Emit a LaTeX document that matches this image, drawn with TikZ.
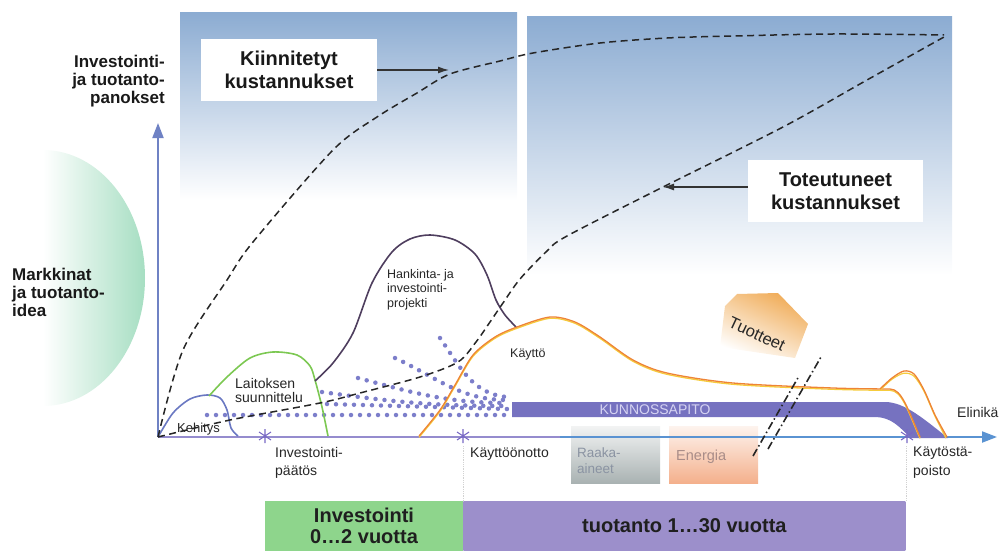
\documentclass[tikz,border=0pt]{standalone}
\usepackage{fontspec}
\setmainfont{Liberation Sans}
\usetikzlibrary{arrows.meta, positioning, calc}
\definecolor{panelblue}{HTML}{8CACD2}
\definecolor{panelmid}{HTML}{B8D4EA}
\definecolor{ideagreen}{HTML}{A6DEC2}
\definecolor{axisblue}{HTML}{6F82C4}
\definecolor{axisright}{HTML}{5A93D2}
\definecolor{axispurple}{HTML}{958CCE}
\definecolor{markviolet}{HTML}{7868C4}
\definecolor{kehblue}{HTML}{6A78C2}
\definecolor{laitgreen}{HTML}{7CC852}
\definecolor{hankpurple}{HTML}{4E3E5E}
\definecolor{kayorange}{HTML}{EE8436}
\definecolor{kayyellow}{HTML}{F6CC3C}
\definecolor{kpviolet}{HTML}{7672C0}
\definecolor{kptext}{HTML}{D6D4F2}
\definecolor{dotviolet}{HTML}{7C7ECA}
\definecolor{invgreen}{HTML}{8ED58C}
\definecolor{prodviolet}{HTML}{9C8FCB}
\definecolor{prodlight}{HTML}{D2CCE8}
\definecolor{raakagrey}{HTML}{A9B2B2}
\definecolor{raakatext}{HTML}{8A93A2}
\definecolor{energyorange}{HTML}{F4B08C}
\definecolor{energytext}{HTML}{A88C88}
\definecolor{tuoteorange}{HTML}{F0AC58}
\definecolor{arrowgrey}{HTML}{333333}
\tikzset{
  costbox/.style={rectangle, fill=white, minimum width=176pt, minimum height=61pt,
                  align=center, font=\fontsize{20}{23}\selectfont\bfseries, text=black!90},
  sidelabel/.style={inner sep=0pt, font=\fontsize{17}{18}\selectfont\bfseries, text=black!90},
  curvelabel/.style={inner sep=0pt, align=left, font=\fontsize{12.5}{14.5}\selectfont, text=black!85},
  eventlabel/.style={inner sep=0pt, align=left, font=\fontsize{14}{18}\selectfont, text=black!85},
  phasebar/.style={rectangle, inner sep=0pt, minimum height=50pt, align=center,
                   font=\fontsize{20}{21}\selectfont\bfseries, text=black!88},
  costcurve/.style={draw=black!85, line width=1.5pt, dash pattern=on 7pt off 4.5pt},
  costarrow/.style={draw=arrowgrey, line width=1.3pt, -{Latex[length=11pt,width=7pt]}},
  axisline/.style={line width=2pt, -{Triangle[length=15pt,width=11pt]}},
  axmark/.style={draw=markviolet, line width=1.1pt},
  dotrow/.style={draw=dotviolet, line width=4.5pt, line cap=round, dash pattern=on 0pt off 9pt},
  lifecurve/.style={line width=1.6pt, smooth},
  breakline/.style={draw=black!85, line width=1.6pt, dash pattern=on 8pt off 3pt on 1.5pt off 3pt},
}
\begin{document}
\begin{tikzpicture}[x=1pt, y=-1pt]
  \useasboundingbox (0,0) rectangle (999,551);

  % --- background panels ---
  \shade[top color=panelblue, middle color=panelmid, bottom color=white] (180,13) rectangle (517,200);
  \shade[top color=panelblue, middle color=panelmid, bottom color=white] (527,17) rectangle (952,275);

  % --- market idea ---
  \shade[left color=white, middle color=ideagreen!75, right color=ideagreen]
        (43,150) arc[start angle=-90, end angle=90, x radius=102, y radius=128] -- cycle;
  \node[sidelabel, align=left, anchor=north west] (idea) at (12,267.5)
       {Markkinat\\ja tuotanto-\\idea};

  % --- input boxes ---
  \shade[top color=raakagrey!15, middle color=raakagrey!85, bottom color=raakagrey] (571,426) rectangle (660,483);
  \shade[top color=energyorange!15, middle color=energyorange!85, bottom color=energyorange] (669,426) rectangle (758,483);
  \node[inner sep=0pt, align=left, anchor=north west, text=raakatext,
        font=\fontsize{13.5}{16}\selectfont] (raaka) at (577,447.5) {Raaka-\\aineet};
  \node[inner sep=0pt, anchor=base west, text=energytext,
        font=\fontsize{14.5}{16}\selectfont] (energia) at (676,460) {Energia};

  % --- products ---
  \shade[top color=tuoteorange, middle color=tuoteorange!60, bottom color=white, shading angle=-25]
        (725,306) -- (737,294) -- (778,293) -- (808,324) -- (795,358) -- (720,347) -- cycle;
  \node[inner sep=0pt, rotate=-25, font=\fontsize{16.5}{18}\selectfont, text=black!85] (tuotteet) at (757,334) {Tuotteet};

  % --- axes ---
  \coordinate (origin) at (158,437);
  \coordinate (ytip) at (158,123);
  \coordinate (xtip) at (997,437);
  \draw[axisline, axisblue] (origin) -- (ytip);
  \draw[axisline, axisright] (origin) -- (xtip);
  \draw[line width=2pt, axispurple] (origin) -- (560,437);
  \node[sidelabel, align=right, anchor=north east] (yaxis) at (165,54.5)
       {Investointi-\\ja tuotanto-\\panokset};
  \node[eventlabel, anchor=base west] (elinika) at (957,417) {Elinikä};

  % faint phase borders
  \draw[gray!35, densely dotted, line width=0.8pt] (463,446) -- (463,501);
  \draw[gray!35, densely dotted, line width=0.8pt] (906,446) -- (906,501);

  % --- maintenance band ---
  \fill[kpviolet] (512,402) -- (885,402) .. controls (905,402) and (925,420) .. (948,438)
        -- (911,438) .. controls (899,427) and (892,417) .. (874,417) -- (512,417) -- cycle;
  \node[inner sep=0pt, text=kptext, font=\fontsize{14}{14}\selectfont] (kp) at (655,410) {KUNNOSSAPITO};

  % dotted rows into the band
  \draw[dotrow] (207,415) -- (507,415);
  \draw[dotrow] (327,404) -- (507,409);
  \draw[dotrow] (322,392) to[out=-8, in=180] (507,406);
  \draw[dotrow] (358,378) to[out=-15, in=180] (507,403);
  \draw[dotrow] (395,358) to[out=-25, in=180] (507,400);
  \draw[dotrow] (440,338) to[out=-55, in=175] (507,397);

  % --- life cycle curves ---
  \draw[lifecurve, kehblue] plot[smooth] coordinates
       {(158,437) (173,413) (190,399) (207,395) (220,398) (227,410) (231,428) (238,436)};
  \draw[lifecurve, laitgreen] plot[smooth] coordinates
       {(209,396) (227,377) (250,358) (273,352) (297,355) (310,366) (315,380) (322,407) (328,436)};
  \draw[lifecurve, hankpurple] plot[smooth] coordinates
       {(315,381) (333,363) (353,333) (372,283) (392,252) (410,239) (430,235) (455,240)
        (475,254) (487,275) (496,300) (505,315) (516,327)};
  % kaytto (orange edge with yellow inner line)
  \draw[line width=1.3pt, kayyellow, yshift=-1.3pt] plot[smooth] coordinates
       {(419,436) (440,410) (455,385) (473,355) (495,337) (517,327) (550,317) (575,322)
        (600,337) (633,360) (667,373) (733,383) (833,388) (890,389)}
        .. controls (902,389) and (908,410) .. (920,437);
  \draw[line width=1.3pt, kayorange] plot[smooth] coordinates
       {(419,436) (440,410) (455,385) (473,355) (495,337) (517,327) (550,317) (575,322)
        (600,337) (633,360) (667,373) (733,383) (833,388) (890,389)}
        .. controls (902,389) and (908,410) .. (920,437);
  \draw[line width=1.2pt, kayyellow, yshift=-1.2pt] plot[smooth] coordinates
       {(880,389) (892,378) (904,372) (914,375) (924,390) (935,415) (946,437)};
  \draw[line width=1.3pt, kayorange] plot[smooth] coordinates
       {(880,389) (892,378) (904,371) (914,374) (924,390) (935,415) (947,437)};

  % curve labels
  \node[curvelabel, anchor=base west, font=\fontsize{13}{14}\selectfont] (kehitys) at (177,432) {Kehitys};
  \node[curvelabel, anchor=north west, font=\fontsize{14}{14.5}\selectfont] (laitos) at (235,378)
       {Laitoksen\\suunnittelu};
  \node[curvelabel, anchor=north west] (hankinta) at (387,269) {Hankinta- ja\\investointi-\\projekti};
  \node[curvelabel, anchor=base west] (kaytto) at (510,357) {Käyttö};

  % --- break marks ---
  \draw[breakline] (753,456) -- (799,376);
  \draw[breakline] (768,449) -- (821,357);

  % --- milestones on the time axis ---
  \coordinate (pdmark) at (265,436);
  \coordinate (komark) at (463,436);
  \coordinate (kpmark) at (907,436);
  \foreach \m in {pdmark, komark, kpmark}
    \draw[axmark] (\m) +(0,-7) -- +(0,7) +(-6,-4) -- +(6,4) +(-6,4) -- +(6,-4);
  \node[eventlabel, anchor=north west] (paatos) at (275,447) {Investointi-\\päätös};
  \node[eventlabel, anchor=base west] (kayttoon) at (470,457) {Käyttöönotto};
  \node[eventlabel, anchor=north west, font=\fontsize{14}{19}\selectfont] (poisto) at (913,447) {Käytöstä-\\poisto};

  % --- cost curves ---
  \draw[costcurve] plot[smooth] coordinates
       {(158,437) (183,350) (227,280) (253,242) (333,150) (377,117) (417,93) (450,74)
        (500,61) (533,53) (600,43) (667,38) (733,36) (833,34) (944,35)};
  \draw[costcurve] plot[smooth] coordinates
       {(158,437) (230,420) (320,403) (360,393) (420,377) (458,362) (476,342) (490,322)
        (503,303) (520,279) (547,251) (567,236) (663,187) (783,127) (867,80) (944,37)};

  % --- cost labels ---
  \node[costbox] (kiinn) at (289,70) {Kiinnitetyt\\kustannukset};
  \node[costbox, minimum width=175pt, minimum height=62pt] (toteut) at (835.5,191) {Toteutuneet\\kustannukset};
  \coordinate (kiinntip) at (449,70);
  \coordinate (toteuttip) at (663,187);
  \draw[costarrow] (kiinn.east) -- (kiinntip);
  \draw[costarrow] (toteut.west |- toteuttip) -- (toteuttip);

  % --- phases ---
  \node[phasebar, fill=invgreen, minimum width=198pt] (invbar) at (364,526) {Investointi\\0…2 vuotta};
  \node[phasebar, left color=prodviolet, middle color=prodlight, right color=prodviolet,
        minimum width=442pt, anchor=west] (prodbar) at (invbar.east) {tuotanto 1…30 vuotta};

\end{tikzpicture}
\end{document}
